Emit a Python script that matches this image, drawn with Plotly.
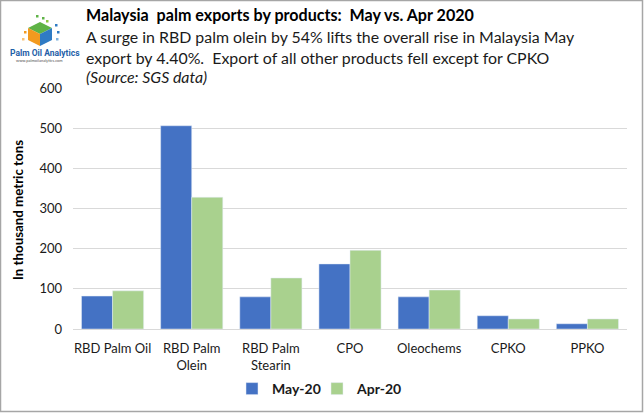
import plotly.graph_objects as go

categories = ["RBD Palm Oil", "RBD Palm<br>Olein", "RBD Palm<br>Stearin", "CPO", "Oleochems", "CPKO", "PPKO"]
may20 = [82, 506, 80, 162, 80, 33, 13]
apr20 = [95, 328, 127, 196, 97, 25, 25]
y_ticks = [0, 100, 200, 300, 400, 500, 600]

W, H = 644, 413
L, R, T, B = 73, 17, 88, 84
PW, PH = W - L - R, H - T - B

def px(x):
    return (x - L) / PW

def py(y):
    return (H - B - y) / PH

FONT = "Lato"

fig = go.Figure()
fig.add_trace(go.Bar(name="<b>May-20</b>", x=categories, y=may20, marker_color="#4472C4"))
fig.add_trace(go.Bar(name="<b>Apr-20</b>", x=categories, y=apr20, marker_color="#A9D18E"))

annotations = [
    dict(text="<b>Malaysia  palm exports by products:  May vs. Apr 2020</b>", x=px(84), y=py(15),
         font=dict(size=16.1, color="#000000", family=FONT)),
    dict(text="A surge in RBD palm olein by 54% lifts the overall rise in Malaysia May", x=px(84), y=py(36),
         font=dict(size=15.9, color="#1a1a1a", family=FONT)),
    dict(text="export by 4.40%.  Export of all other products fell except for CPKO", x=px(84), y=py(57),
         font=dict(size=15.9, color="#1a1a1a", family=FONT)),
    dict(text="<i>(Source: SGS data)</i>", x=px(84), y=py(77),
         font=dict(size=15.9, color="#1a1a1a", family=FONT)),
    dict(text="<b>Palm Oil Analytics</b>", x=px(8), y=py(53),
         font=dict(size=8.5, color="#1F5FA8", family="Liberation Sans Narrow, Roboto")),
    dict(text="www.palmoilanalytics.com", x=px(14), y=py(61),
         font=dict(size=4, color="#555555", family=FONT)),
    dict(text="<b>In thousand metric tons</b>", x=px(18), y=py(210), textangle=-90, xanchor="center",
         font=dict(size=13.3, color="#000000", family=FONT)),
]
for a in annotations:
    a.setdefault("xanchor", "left")
    a.update(xref="paper", yref="paper", yanchor="middle", showarrow=False)

shapes = [
    dict(type="rect", xref="paper", yref="paper", x0=px(0.5), x1=px(W - 1.5), y0=py(0.5), y1=py(H - 1.5),
         line=dict(color="#A6A6A6", width=1.5), fillcolor="rgba(0,0,0,0)", layer="above"),
    dict(type="path", xref="paper", yref="paper",
         path=f"M {px(28)},{py(28)} L {px(40)},{py(22)} L {px(52)},{py(28)} L {px(40)},{py(34)} Z",
         fillcolor="#5FB346", line=dict(width=0)),
    dict(type="path", xref="paper", yref="paper",
         path=f"M {px(28)},{py(28)} L {px(40)},{py(34)} L {px(40)},{py(46)} L {px(28)},{py(40)} Z",
         fillcolor="#F29A1F", line=dict(width=0)),
    dict(type="path", xref="paper", yref="paper",
         path=f"M {px(40)},{py(34)} L {px(52)},{py(28)} L {px(52)},{py(40)} L {px(40)},{py(46)} Z",
         fillcolor="#2F7BC4", line=dict(width=0)),
]
for (sx, sy, c) in [(36, 15, "#5FB346"), (42, 17, "#5FB346"), (46, 20, "#8CC63F"), (55, 24, "#2F7BC4"),
                    (57, 31, "#2F7BC4"), (56, 38, "#7FB2DE"), (24, 31, "#F29A1F"), (22, 38, "#F7C27A")]:
    shapes.append(dict(type="rect", xref="paper", yref="paper", x0=px(sx), x1=px(sx + 2.5),
                       y0=py(sy), y1=py(sy + 2.5), fillcolor=c, line=dict(width=0)))

fig.update_layout(
    width=W, height=H,
    margin=dict(l=L, r=R, t=T, b=B, autoexpand=False),
    paper_bgcolor="white", plot_bgcolor="white",
    barmode="group", bargap=0.215, bargroupgap=0,
    font=dict(family=FONT, color="#404040"),
    showlegend=True,
    legend=dict(orientation="h", x=px(232), y=py(389), xanchor="left", yanchor="middle",
                font=dict(size=14, color="#1a1a1a", family=FONT), itemwidth=30,
                entrywidth=40, traceorder="normal"),
    xaxis=dict(showgrid=False, showline=False, ticks="", automargin=False,
               tickfont=dict(size=13, color="#1a1a1a"), ticklabelstandoff=10),
    yaxis=dict(range=[0, 600], tickvals=y_ticks, showgrid=True, gridcolor="#D9D9D9", gridwidth=1,
               zeroline=True, zerolinecolor="#D9D9D9", zerolinewidth=1, showline=False, ticks="",
               automargin=False, tickfont=dict(size=13, color="#1a1a1a"), ticklabelstandoff=10),
    annotations=annotations,
    shapes=shapes,
)

fig.write_html("out.html", config={"displayModeBar": False},
               post_script="document.body.style.margin='0';document.body.style.padding='0';document.body.style.overflow='hidden';")
